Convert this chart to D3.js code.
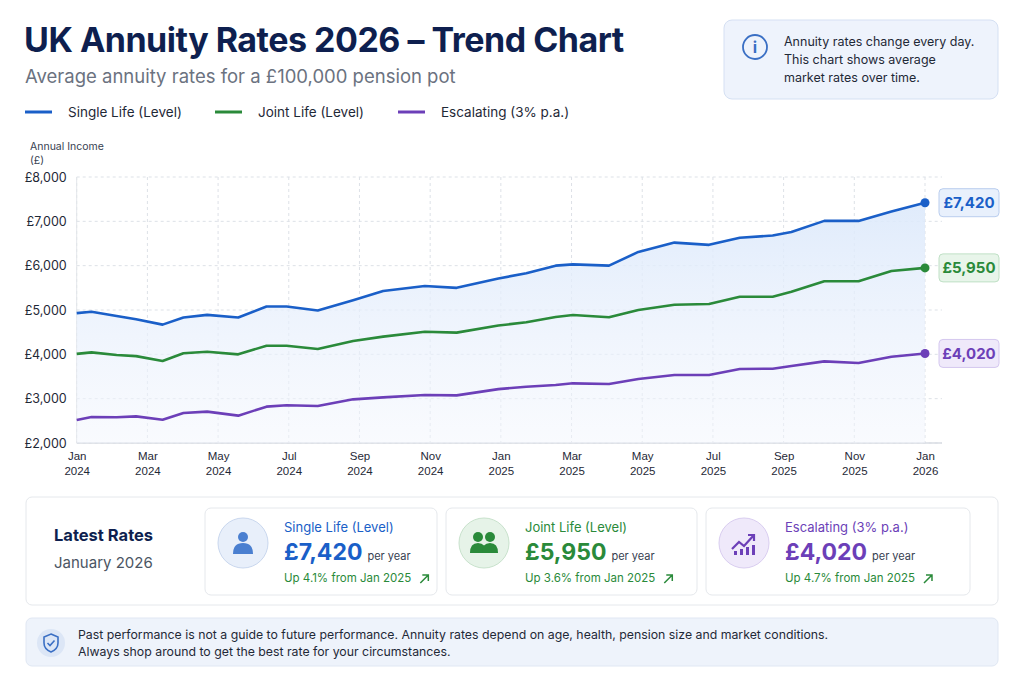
<!DOCTYPE html>
<html><head><meta charset="utf-8">
<script src="https://cdn.jsdelivr.net/npm/d3@7"></script>
<style>body{margin:0;background:#fff;font-family:Inter,"Noto Sans",sans-serif}</style>
</head><body><svg id="c" width="1024" height="683"></svg>
<script>
// Month offsets from Jan 2024 for each observation
const months=[0,0.42,1.13,1.68,2.43,3.02,3.69,4.57,5.37,5.94,6.82,7.82,8.67,9.85,10.75,11.93,12.72,13.55,14.04,15.06,15.89,16.91,17.89,18.76,19.69,20.22,21.15,22.12,23.05,24];
const singleLife=[4930,4960,4865,4790,4670,4830,4890,4830,5080,5080,4990,5220,5430,5540,5500,5710,5830,6000,6030,6000,6310,6520,6470,6630,6680,6760,7010,7010,7220,7420];
const jointLife=[4010,4045,3985,3960,3850,4025,4060,4000,4195,4195,4120,4300,4400,4510,4490,4650,4722,4842,4887,4835,5000,5120,5135,5300,5300,5413,5647,5647,5880,5950];
const escalating=[2520,2586,2580,2600,2526,2677,2707,2617,2820,2850,2835,2985,3030,3083,3075,3215,3270,3308,3346,3330,3444,3534,3534,3669,3676,3737,3842,3805,3947,4020];
const yTicks=[2000,3000,4000,5000,6000,7000,8000];
const xTickMonths=[0,2,4,6,8,10,12,14,16,18,20,22,24];
const monthNames=["Jan","Feb","Mar","Apr","May","Jun","Jul","Aug","Sep","Oct","Nov","Dec"];
const seriesNames=["Single Life (Level)","Joint Life (Level)","Escalating (3% p.a.)"];
const seriesColors=["#1a5fc8","#2a8a3a","#6c3fb8"];
const latestValues=["£7,420","£5,950","£4,020"];
const changes=["Up 4.1% from Jan 2025","Up 3.6% from Jan 2025","Up 4.7% from Jan 2025"];

const svg=d3.select("#c");
const defs=svg.append("defs");
const g1=defs.append("linearGradient").attr("id","af").attr("x1",0).attr("x2",0).attr("y1",0).attr("y2",1);
g1.append("stop").attr("offset","0").attr("stop-color","#dce9fb").attr("stop-opacity",0.9);
g1.append("stop").attr("offset","1").attr("stop-color","#f3f6fd").attr("stop-opacity",0.5);

// Header
svg.append("text").attr("x",24).attr("y",52).attr("font-size",34).attr("font-weight",700).attr("fill","#0e1f4f").attr("letter-spacing",-0.5).text("UK Annuity Rates 2026 – Trend Chart");
svg.append("text").attr("x",25).attr("y",83).attr("font-size",18.5).attr("fill","#6b7280").text("Average annuity rates for a £100,000 pension pot");
const legX=[25,215,398];
seriesNames.forEach((n,i)=>{
  svg.append("line").attr("x1",legX[i]).attr("x2",legX[i]+27).attr("y1",112).attr("y2",112).attr("stroke",seriesColors[i]).attr("stroke-width",3);
  svg.append("text").attr("x",legX[i]+43).attr("y",117).attr("font-size",13.5).attr("fill","#1f2937").text(n);
});
// info box
svg.append("rect").attr("x",724).attr("y",20).attr("width",274).attr("height",79).attr("rx",8).attr("fill","#eef3fc").attr("stroke","#d5e0f3");
svg.append("circle").attr("cx",755).attr("cy",47).attr("r",12).attr("fill","none").attr("stroke","#3a6fc4").attr("stroke-width",1.8);
svg.append("text").attr("x",755).attr("y",53).attr("text-anchor","middle").attr("font-size",16).attr("font-weight",700).attr("fill","#3a6fc4").text("i");
["Annuity rates change every day.","This chart shows average","market rates over time."].forEach((t,i)=>
  svg.append("text").attr("x",784).attr("y",46+i*18).attr("font-size",12.5).attr("fill","#1f2937").text(t));

// Chart
const x=d3.scaleLinear().domain([0,24]).range([76.7,925]);
const y=d3.scaleLinear().domain([2000,8000]).range([443,177]);
const grid=svg.append("g");
grid.selectAll("line.h").data(yTicks).join("line").attr("x1",76.7).attr("x2",942).attr("y1",d=>y(d)).attr("y2",d=>y(d)).attr("stroke","#dde1e7").attr("stroke-dasharray","3,3");
grid.selectAll("line.v").data(xTickMonths).join("line").attr("x1",d=>x(d)).attr("x2",d=>x(d)).attr("y1",177).attr("y2",443).attr("stroke","#dde1e7").attr("stroke-dasharray","3,3");
svg.append("line").attr("x1",76.7).attr("x2",76.7).attr("y1",177).attr("y2",443).attr("stroke","#e3e6ea");
svg.append("line").attr("x1",76.7).attr("x2",942).attr("y1",443).attr("y2",443).attr("stroke","#d9dde3").attr("stroke-width",1.5);

const area=d3.area().x((d,i)=>x(months[i])).y0(y(2000)).y1(d=>y(d));
svg.append("path").datum(singleLife).attr("d",area).attr("fill","url(#af)");
[singleLife,jointLife,escalating].forEach((s,k)=>{
  const line=d3.line().x((d,i)=>x(months[i])).y(d=>y(d));
  svg.append("path").datum(s).attr("d",line).attr("fill","none").attr("stroke",seriesColors[k]).attr("stroke-width",2.6).attr("stroke-linejoin","round");
  const last=s[s.length-1];
  svg.append("circle").attr("cx",x(24)).attr("cy",y(last)).attr("r",4.5).attr("fill",seriesColors[k]);
  const bg=["#e8f0fc","#e8f5ea","#efe9fa"][k], bd=["#b9cdee","#bfe0c5","#d4c7ef"][k];
  svg.append("rect").attr("x",939).attr("y",y(last)-14).attr("width",60).attr("height",28).attr("rx",4).attr("fill",bg).attr("stroke",bd);
  svg.append("text").attr("x",969).attr("y",y(last)+5.5).attr("text-anchor","middle").attr("font-size",15).attr("font-weight",700).attr("fill",seriesColors[k]).text(latestValues[k]);
});
// axes labels
const yAx=svg.append("g").attr("transform","translate(76.7,0)").call(d3.axisLeft(y).tickValues(yTicks).tickSize(0).tickPadding(10).tickFormat(d=>"£"+d3.format(",")(d)));
yAx.select(".domain").remove();
yAx.selectAll("text").attr("font-size",12.5).attr("fill","#1f2937").attr("font-family","Inter,sans-serif");
const xAx=svg.append("g").attr("transform","translate(0,443)").call(d3.axisBottom(x).tickValues(xTickMonths).tickSize(0).tickFormat(""));
xAx.select(".domain").remove();
xAx.selectAll(".tick").each(function(d){
  const t=d3.select(this);
  t.append("text").attr("y",17).attr("text-anchor","middle").attr("font-size",11.5).attr("fill","#1f2937").text(monthNames[d%12]);
  t.append("text").attr("y",32).attr("text-anchor","middle").attr("font-size",11.5).attr("fill","#1f2937").text(2024+Math.floor(d/12));
});
svg.append("text").attr("x",30).attr("y",150).attr("font-size",10.5).attr("fill","#374151").text("Annual Income");
svg.append("text").attr("x",30).attr("y",164).attr("font-size",10.5).attr("fill","#374151").text("(£)");

// Latest rates panel
svg.append("rect").attr("x",26).attr("y",497).attr("width",972).attr("height",108).attr("rx",6).attr("fill","#fff").attr("stroke","#e5e8ec");
svg.append("text").attr("x",54).attr("y",541).attr("font-size",16.5).attr("font-weight",700).attr("fill","#0e1f4f").text("Latest Rates");
svg.append("text").attr("x",54).attr("y",568).attr("font-size",15).attr("fill","#4b5563").text("January 2026");
const cards=[[205,232],[446,251],[706,264]];
const icBg=["#e8effa","#e6f3e8","#efe9fa"], icBd=["#c9d7ee","#c8e2cc","#d9cdf0"];
cards.forEach(([cx,w],i)=>{
  svg.append("rect").attr("x",cx).attr("y",508).attr("width",w).attr("height",87).attr("rx",6).attr("fill","#fff").attr("stroke","#e5e8ec");
  const ix=cx+38, iy=543;
  svg.append("circle").attr("cx",ix).attr("cy",iy).attr("r",25).attr("fill",icBg[i]).attr("stroke",icBd[i]);
  const c=seriesColors[i];
  if(i===0){
    svg.append("circle").attr("cx",ix).attr("cy",iy-6).attr("r",5).attr("fill","#4a7fd0");
    svg.append("path").attr("d",`M${ix-10},${iy+11} Q${ix-10},${iy} ${ix},${iy} Q${ix+10},${iy} ${ix+10},${iy+11} Z`).attr("fill","#4a7fd0");
  } else if(i===1){
    [-6,6].forEach(o=>{
      svg.append("circle").attr("cx",ix+o).attr("cy",iy-6).attr("r",5).attr("fill",c);
      svg.append("path").attr("d",`M${ix+o-8},${iy+10} Q${ix+o-8},${iy} ${ix+o},${iy} Q${ix+o+8},${iy} ${ix+o+8},${iy+10} Z`).attr("fill",c);
    });
  } else {
    svg.append("path").attr("d",`M${ix-12},${iy+6} L${ix-5},${iy-1} L${ix},${iy+3} L${ix+10},${iy-8} M${ix+4},${iy-8} L${ix+10},${iy-8} L${ix+10},${iy-2}`).attr("fill","none").attr("stroke",c).attr("stroke-width",2.2);
    [-10,-4,2,8].forEach((o,j)=>svg.append("rect").attr("x",ix+o).attr("y",iy+8-j*2).attr("width",3).attr("height",4+j*2).attr("fill",c));
  }
  const tx=cx+79;
  svg.append("text").attr("x",tx).attr("y",532).attr("font-size",13).attr("fill",i===0?"#1a5fc8":c).text(seriesNames[i]);
  const v=svg.append("text").attr("x",tx).attr("y",560).attr("font-size",23).attr("font-weight",700).attr("fill",c).text(latestValues[i]);
  svg.append("text").attr("x",tx+v.node().getComputedTextLength()+5).attr("y",560).attr("font-size",11).attr("fill","#374151").text("per year");
  const ch=svg.append("text").attr("x",tx).attr("y",582).attr("font-size",11.5).attr("fill","#2a8a3a").text(changes[i]);
  const ax=tx+ch.node().getComputedTextLength()+9;
  svg.append("path").attr("d",`M${ax},${583} L${ax+8},${575} M${ax+2},${575} L${ax+8},${575} L${ax+8},${581}`).attr("fill","none").attr("stroke","#2a8a3a").attr("stroke-width",1.5);
});

// Disclaimer
svg.append("rect").attr("x",26).attr("y",618).attr("width",972).attr("height",48).attr("rx",6).attr("fill","#eef3fb").attr("stroke","#e0e7f3");
svg.append("circle").attr("cx",51).attr("cy",643).attr("r",14).attr("fill","#dce6f6");
svg.append("path").attr("d","M51,634 L58,637 L58,643 Q58,649 51,652 Q44,649 44,643 L44,637 Z M47.5,643 L50,645.5 L54.5,640.5").attr("fill","none").attr("stroke","#3a6fc4").attr("stroke-width",1.6);
svg.append("text").attr("x",78).attr("y",639).attr("font-size",12.3).attr("fill","#1f2937").text("Past performance is not a guide to future performance. Annuity rates depend on age, health, pension size and market conditions.");
svg.append("text").attr("x",78).attr("y",656).attr("font-size",12.3).attr("fill","#1f2937").text("Always shop around to get the best rate for your circumstances.");
</script></body></html>
